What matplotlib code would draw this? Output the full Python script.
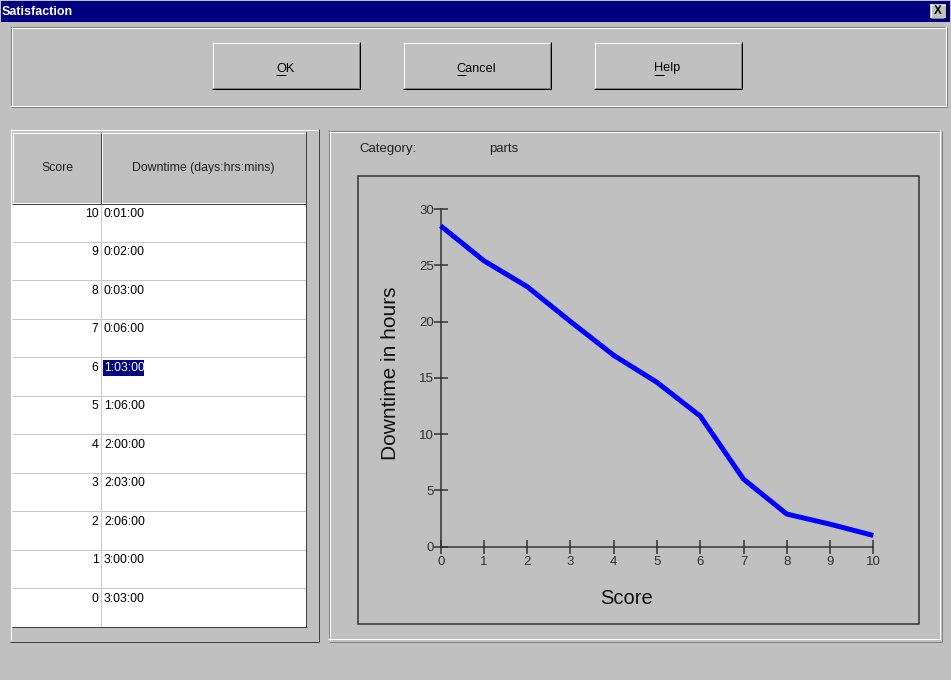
import matplotlib
matplotlib.use('Agg')
import matplotlib.pyplot as plt
from matplotlib.patches import Rectangle
from matplotlib import font_manager as fm

# ---------------- data ----------------
scores = [0, 1, 2, 3, 4, 5, 6, 7, 8, 9, 10]
downtime_hours = [28.5, 25.4, 23.1, 20.0, 17.0, 14.6, 11.6, 6.0, 2.9, 2.0, 1.0]
x_ticks = [0, 1, 2, 3, 4, 5, 6, 7, 8, 9, 10]
y_ticks = [0, 5, 10, 15, 20, 25, 30]

table_scores = ['10', '9', '8', '7', '6', '5', '4', '3', '2', '1', '0']
table_downtime = ['0:01:00', '0:02:00', '0:03:00', '0:06:00', '1:03:00', '1:06:00',
                  '2:00:00', '2:03:00', '2:06:00', '3:00:00', '3:03:00']
selected_row = 4
category_name = 'parts'
buttons = ['OK', 'Cancel', 'Help']

# ---------------- fonts ----------------
def has_font(name):
    try:
        fm.findfont(fm.FontProperties(family=name), fallback_to_default=False)
        return True
    except Exception:
        return False

if has_font('Liberation Sans Narrow'):
    UI_FAM, UI_SIZE, TICK_SIZE = ['Liberation Sans Narrow', 'DejaVu Sans'], 9.6, 10.5
else:
    UI_FAM, UI_SIZE, TICK_SIZE = ['Liberation Sans', 'DejaVu Sans'], 8.8, 9.5
BIG_FAM = ['Liberation Sans', 'DejaVu Sans']

W, H = 951, 680
GRAY = '#c0c0c0'
DARK = '#808080'
fig = plt.figure(figsize=(W / 100, H / 100), dpi=100)
fig.patch.set_facecolor(GRAY)
ui = fig.add_axes([0, 0, 1, 1])
ui.set_xlim(0, W)
ui.set_ylim(H, 0)
ui.axis('off')
ui.set_facecolor('none')

PX = 0.72  # points per pixel


def rect(x0, y0, x1, y1, fc, z=1):
    ui.add_patch(Rectangle((x0, y0), x1 - x0, y1 - y0, facecolor=fc,
                           edgecolor='none', linewidth=0, zorder=z))


def line(xs, ys, c, w=1, z=3):
    ui.plot(xs, ys, color=c, lw=w * PX, solid_capstyle='butt', zorder=z)


def frame(x0, y0, x1, y1, tl, br, z=3):
    line([x0, x1], [y0 + .5, y0 + .5], tl, z=z)
    line([x0 + .5, x0 + .5], [y0, y1], tl, z=z)
    line([x0, x1 + 1], [y1 + .5, y1 + .5], br, z=z)
    line([x1 + .5, x1 + .5], [y0, y1 + 1], br, z=z)


def text(x, y, s, size=None, fam=None, **kw):
    return ui.text(x, y, s, fontsize=size or UI_SIZE, family=fam or UI_FAM, zorder=6, **kw)


# title bar
rect(1, 1, 950, 22, '#000080')
text(2, 12, 'Satisfaction', color='white', weight='bold', va='center', ha='left',
     fam=BIG_FAM, size=9)
rect(930, 4, 946, 18, GRAY, z=4)
frame(930, 4, 945, 17, 'white', 'black', z=5)
line([931, 944], [17.5, 17.5], DARK, z=5)
text(938, 11, 'X', color='black', weight='bold', ha='center', va='center', fam=BIG_FAM, size=8.5)

# top group box
frame(10, 26, 945, 105, DARK, 'white')
frame(11, 27, 946, 106, 'white', DARK)

# buttons
btn_x = [212, 403, 594]
btn_w = 147
btn_texts = []
for bx, label in zip(btn_x, buttons):
    x0, y0, x1, y1 = bx, 42, bx + btn_w, 88
    line([x0, x1], [y0 + .5, y0 + .5], 'white', z=4)
    line([x0 + .5, x0 + .5], [y0, y1], 'white', z=4)
    line([x0, x1 + 1], [y1 + .5, y1 + .5], 'black', z=4)
    line([x1 + .5, x1 + .5], [y0, y1 + 1], 'black', z=4)
    line([x0 + 1, x1], [y1 - .5, y1 - .5], DARK, z=4)
    line([x1 - .5, x1 - .5], [y0 + 1, y1], DARK, z=4)
    t = text((x0 + x1) / 2, 71.5, label, size=UI_SIZE + 0.4, color='black',
             ha='center', va='baseline')
    btn_texts.append(t)

fig.canvas.draw()
rend = fig.canvas.get_renderer()
for t, label in zip(btn_texts, buttons):
    bb = t.get_window_extent(rend)
    tmp = text(0, 0, label[0], size=UI_SIZE + 0.4)
    w1 = tmp.get_window_extent(rend).width
    tmp.remove()
    line([bb.x0, bb.x0 + w1], [74.5, 74.5], 'black', w=1, z=6)

# ---------------- left panel (table) ----------------
frame(10, 129, 318, 641, 'white', '#404040')
rect(12, 132, 306, 203, GRAY, z=2)
rect(12, 203, 306, 627, 'white', z=2)
frame(12, 132, 100, 203, 'white', '#404040', z=4)
frame(101, 132, 305, 203, 'white', '#404040', z=4)
text(57, 168, 'Score', color='#202020', ha='center', va='center')
text(203, 168, 'Downtime (days:hrs:mins)', color='#202020', ha='center', va='center')
row_h = 38.45
for i, (sc, dt) in enumerate(zip(table_scores, table_downtime)):
    top = 204 + i * row_h
    if i > 0:
        line([12, 306], [top - .5, top - .5], '#c8c8c8', z=3)
    ty = top + 10
    text(98.5, ty, sc, color='black', ha='right', va='center')
    if i == selected_row:
        rect(103, top + 2, 144, top + 18, '#000080', z=4)
        text(104, ty, dt, color='white', ha='left', va='center')
    else:
        text(104, ty, dt, color='black', ha='left', va='center')
line([100.5, 100.5], [204, 627], '#c8c8c8', z=3)
line([12, 307], [626.5, 626.5], '#404040', z=4)
line([305.5, 305.5], [132, 627], '#404040', z=4)

# ---------------- right panel (chart) ----------------
frame(328, 130, 939, 638, DARK, 'white')
frame(329, 131, 941, 641, 'white', DARK)
text(359, 149, 'Category:', color='#202020', ha='left', va='center', fam=BIG_FAM, size=9.5)
text(489, 149, category_name, color='#202020', ha='left', va='center', fam=BIG_FAM, size=9.5)
ui.add_patch(Rectangle((357.5, 175.5), 561, 448, facecolor='none', edgecolor='#303030',
                       linewidth=1.5 * PX, zorder=3))

ax_l, ax_r, ax_t, ax_b = 440.7, 873.3, 209.0, 546.7
ax = fig.add_axes([ax_l / W, (H - ax_b) / H, (ax_r - ax_l) / W, (ax_b - ax_t) / H])
ax.set_facecolor('none')
ax.plot(scores, downtime_hours, color='#0000ff', lw=3.6, solid_capstyle='butt', zorder=5,
        clip_on=False)
ax.set_xlim(0, 10)
ax.set_ylim(0, 30)
ax.set_xticks(x_ticks)
ax.set_yticks(y_ticks)
for s in ['top', 'right']:
    ax.spines[s].set_visible(False)
for s in ['left', 'bottom']:
    ax.spines[s].set_color('#303030')
    ax.spines[s].set_linewidth(1.5 * PX)
ax.tick_params(axis='both', direction='inout', length=10, width=1.5 * PX, color='#303030',
               labelcolor='#303030', labelsize=TICK_SIZE)
ax.tick_params(axis='x', pad=1.5)
ax.tick_params(axis='y', pad=0)
for lab in ax.get_xticklabels() + ax.get_yticklabels():
    lab.set_family(UI_FAM)
ax.set_xlabel('Score', fontsize=14.5, family=BIG_FAM, color='#101010')
ax.xaxis.set_label_coords((627 - ax_l) / (ax_r - ax_l), (ax_b - 598) / (ax_b - ax_t))
ax.xaxis.label.set_va('center')
ax.set_ylabel('Downtime in hours', fontsize=15, family=BIG_FAM, color='#101010')
ax.yaxis.set_label_coords((391 - ax_l) / (ax_r - ax_l), (ax_b - 373) / (ax_b - ax_t))
ax.yaxis.label.set_va('center')

fig.savefig('out.png', dpi=100, facecolor=GRAY)
